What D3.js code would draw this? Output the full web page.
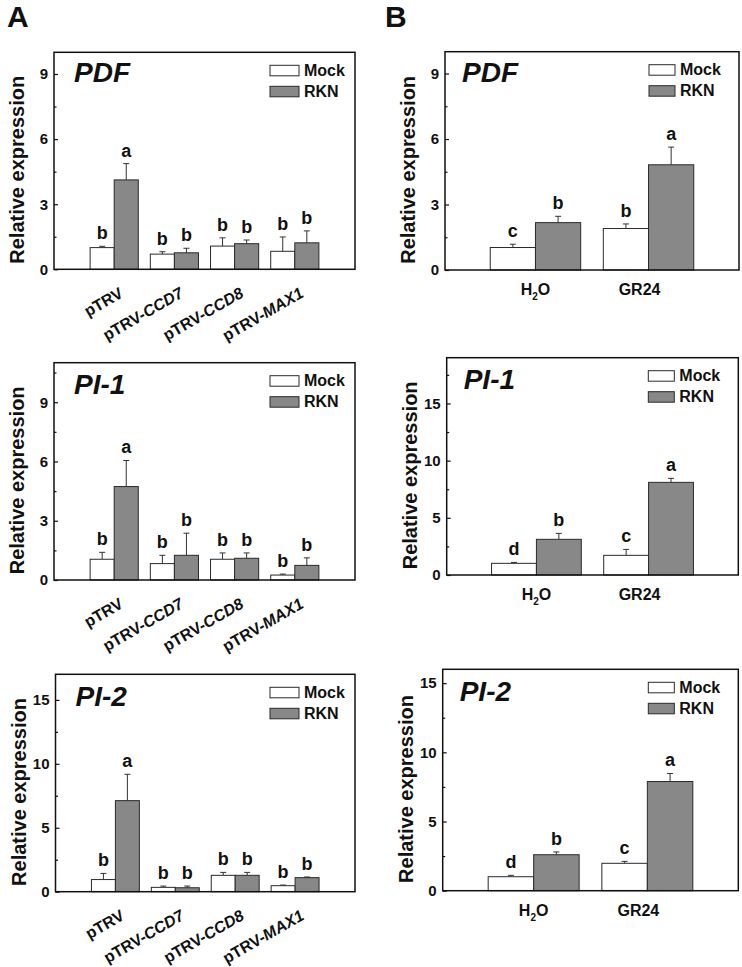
<!DOCTYPE html>
<html>
<head>
<meta charset="utf-8">
<script src="https://cdn.jsdelivr.net/npm/d3@7"></script>
<style>
  html, body { margin: 0; padding: 0; background: #fff; }
  text { font-family: "Liberation Sans", Arial, sans-serif; font-weight: bold; fill: #111; }
</style>
</head>
<body>
<script>
// ---------------- DATA ----------------
const seriesNames = ["Mock", "RKN"];
const categoriesA = ["pTRV", "pTRV-CCD7", "pTRV-CCD8", "pTRV-MAX1"];
const categoriesB = ["H2O", "GR24"];

// Panel A – PDF
const pdfA_mock = [1.00, 0.70, 1.07, 0.83];
const pdfA_mockErr = [0.06, 0.11, 0.38, 0.66];
const pdfA_rkn = [4.12, 0.76, 1.18, 1.22];
const pdfA_rknErr = [0.75, 0.21, 0.17, 0.55];
const pdfA_mockLetters = ["b", "b", "b", "b"];
const pdfA_rknLetters = ["a", "b", "b", "b"];

// Panel A – PI-1
const pi1A_mock = [1.05, 0.83, 1.05, 0.25];
const pi1A_mockErr = [0.35, 0.42, 0.32, 0.05];
const pi1A_rkn = [4.73, 1.25, 1.10, 0.74];
const pi1A_rknErr = [1.32, 1.12, 0.27, 0.38];
const pi1A_mockLetters = ["b", "b", "b", "b"];
const pi1A_rknLetters = ["a", "b", "b", "b"];

// Panel A – PI-2
const pi2A_mock = [0.95, 0.34, 1.28, 0.47];
const pi2A_mockErr = [0.48, 0.10, 0.23, 0.05];
const pi2A_rkn = [7.12, 0.31, 1.28, 1.10];
const pi2A_rknErr = [2.06, 0.13, 0.23, 0.05];
const pi2A_mockLetters = ["b", "b", "b", "b"];
const pi2A_rknLetters = ["a", "b", "b", "b"];

// Panel B – PDF
const pdfB_mock = [1.03, 1.90];
const pdfB_mockErr = [0.15, 0.21];
const pdfB_rkn = [2.17, 4.82];
const pdfB_rknErr = [0.29, 0.81];
const pdfB_mockLetters = ["c", "b"];
const pdfB_rknLetters = ["b", "a"];

// Panel B – PI-1
const pi1B_mock = [1.02, 1.72];
const pi1B_mockErr = [0.08, 0.52];
const pi1B_rkn = [3.12, 8.10];
const pi1B_rknErr = [0.52, 0.35];
const pi1B_mockLetters = ["d", "c"];
const pi1B_rknLetters = ["b", "a"];

// Panel B – PI-2
const pi2B_mock = [1.01, 1.98];
const pi2B_mockErr = [0.10, 0.14];
const pi2B_rkn = [2.60, 7.89];
const pi2B_rknErr = [0.20, 0.58];
const pi2B_mockLetters = ["d", "c"];
const pi2B_rknLetters = ["b", "a"];

// Axis ticks
const ticks3 = [0, 3, 6, 9];
const ticks5 = [0, 5, 10, 15];

// ---------------- LAYOUT ----------------
const W = 742, H = 967;
const FONT = '"Liberation Sans", Arial, sans-serif';
const colors = { Mock: "#ffffff", RKN: "#888888" };

const svg = d3.select("body").append("svg")
  .attr("width", W).attr("height", H)
  .attr("viewBox", `0 0 ${W} ${H}`);

svg.append("text").attr("x", 7).attr("y", 27).attr("font-size", 30).text("A");
svg.append("text").attr("x", 385).attr("y", 27).attr("font-size", 30).text("B");

function drawPanel(o) {
  const g = svg.append("g");
  const x = d3.scaleLinear().domain(o.xDomain).range([o.left, o.right]);
  const y = d3.scaleLinear().domain([0, o.yMax]).range([o.bottom, o.top]);
  const bw = x(0.4) - x(0);

  const rows = [];
  o.cats.forEach((c, i) => {
    rows.push({ s: "Mock", i, v: o.mock[i], e: o.mockErr[i], l: o.mockLet[i], x0: x(i + 1) - bw });
    rows.push({ s: "RKN", i, v: o.rkn[i], e: o.rknErr[i], l: o.rknLet[i], x0: x(i + 1) });
  });

  // error bars (upper only)
  const eb = g.selectAll(".eb").data(rows).enter().append("g");
  eb.append("line")
    .attr("x1", d => d.x0 + bw / 2).attr("x2", d => d.x0 + bw / 2)
    .attr("y1", d => y(d.v)).attr("y2", d => y(d.v + d.e))
    .attr("stroke", "#333").attr("stroke-width", 1);
  eb.append("line")
    .attr("x1", d => d.x0 + bw / 2 - 3).attr("x2", d => d.x0 + bw / 2 + 3)
    .attr("y1", d => y(d.v + d.e)).attr("y2", d => y(d.v + d.e))
    .attr("stroke", "#333").attr("stroke-width", 1);

  // bars
  g.selectAll(".bar").data(rows).enter().append("rect")
    .attr("x", d => d.x0).attr("width", bw)
    .attr("y", d => y(d.v)).attr("height", d => y(0) - y(d.v))
    .attr("fill", d => colors[d.s]).attr("stroke", "#2a2a2a").attr("stroke-width", 1);

  // significance letters
  g.selectAll(".let").data(rows).enter().append("text")
    .attr("x", d => d.x0 + bw / 2).attr("y", d => y(d.v + d.e) - 7)
    .attr("text-anchor", "middle").attr("font-size", 18).text(d => d.l);

  // y axis (inward ticks)
  const ax = d3.axisLeft(y).tickValues(o.ticks).tickSize(-4).tickPadding(6).tickFormat(d3.format("d"));
  const ag = g.append("g").attr("transform", `translate(${o.left},0)`).call(ax);
  ag.select(".domain").remove();
  ag.selectAll("line").attr("stroke", "#111").attr("stroke-width", 1.2);
  ag.selectAll("text").attr("font-size", 15).attr("font-family", FONT).attr("font-weight", "bold").attr("fill", "#111");
  const step = o.ticks[1] - o.ticks[0];
  const minor = d3.range(step / 2, o.yMax, step);
  const mx = d3.axisLeft(y).tickValues(minor).tickSize(-2.5).tickFormat("");
  const mg = g.append("g").attr("transform", `translate(${o.left},0)`).call(mx);
  mg.select(".domain").remove();
  mg.selectAll("line").attr("stroke", "#111").attr("stroke-width", 1.2);

  // frame
  g.append("rect").attr("x", o.left).attr("y", o.top)
    .attr("width", o.right - o.left).attr("height", o.bottom - o.top)
    .attr("fill", "none").attr("stroke", "#111").attr("stroke-width", 1.5);

  // y label
  g.append("text")
    .attr("transform", `translate(${o.left - 30},${(o.top + o.bottom) / 2 + 9}) rotate(-90)`)
    .attr("text-anchor", "middle").attr("font-size", 20).text("Relative expression");

  // gene title
  g.append("text").attr("x", o.left + o.titleDx).attr("y", o.top + o.titleDy)
    .attr("font-size", 28).attr("font-style", "italic").text(o.title);

  // legend
  seriesNames.forEach((s, k) => {
    const ly = o.top + 13 + k * 21;
    g.append("rect").attr("x", o.right - o.legDx).attr("y", ly)
      .attr("width", o.legW).attr("height", 10.5)
      .attr("fill", colors[s]).attr("stroke", "#2a2a2a").attr("stroke-width", 1);
    g.append("text").attr("x", o.right - o.legDx + o.legW + 5).attr("y", ly + 10.5)
      .attr("font-size", 16).text(s);
  });

  // x labels
  if (o.kind === "A") {
    o.cats.forEach((c, i) => {
      const t = g.append("text")
        .attr("transform", `translate(${x(i + 1) + 10},${o.bottom + 27}) rotate(-30)`)
        .attr("text-anchor", "end").attr("font-size", 16);
      const parts = c.split("-");
      if (parts.length === 1) {
        t.text(c);
      } else {
        t.append("tspan").text(parts[0] + "-");
        t.append("tspan").attr("font-style", "italic").text(parts[1]);
      }
    });
  } else {
    o.cats.forEach((c, i) => {
      const t = g.append("text")
        .attr("x", x(i + 1) + (i === 1 ? -9 : 0)).attr("y", o.bottom + 25)
        .attr("text-anchor", "middle").attr("font-size", 16);
      if (c === "H2O") {
        t.append("tspan").text("H");
        t.append("tspan").attr("font-size", 10).attr("dy", 5).text("2");
        t.append("tspan").attr("dy", -5).text("O");
      } else {
        t.text(c);
      }
    });
  }
}

const baseA = { kind: "A", cats: categoriesA, xDomain: [0, 5], left: 54, right: 355, titleDx: 20, legDx: 85, legW: 29 };
const baseB = { kind: "B", cats: categoriesB, xDomain: [0.2, 2.8], titleDx: 17, legDx: 90, legW: 26 };

drawPanel(Object.assign({}, baseA, { top: 52.3, bottom: 269.3, yMax: 10, ticks: ticks3, title: "PDF", titleDy: 30,
  mock: pdfA_mock, mockErr: pdfA_mockErr, rkn: pdfA_rkn, rknErr: pdfA_rknErr, mockLet: pdfA_mockLetters, rknLet: pdfA_rknLetters }));
drawPanel(Object.assign({}, baseA, { top: 362.7, bottom: 580, yMax: 11, ticks: ticks3, title: "PI-1", titleDy: 31,
  mock: pi1A_mock, mockErr: pi1A_mockErr, rkn: pi1A_rkn, rknErr: pi1A_rknErr, mockLet: pi1A_mockLetters, rknLet: pi1A_rknLetters }));
drawPanel(Object.assign({}, baseA, { left: 55.5, top: 674.3, bottom: 891.7, yMax: 17, ticks: ticks5, title: "PI-2", titleDy: 32,
  mock: pi2A_mock, mockErr: pi2A_mockErr, rkn: pi2A_rkn, rknErr: pi2A_rknErr, mockLet: pi2A_mockLetters, rknLet: pi2A_rknLetters }));

drawPanel(Object.assign({}, baseB, { left: 445, right: 739, top: 51.7, bottom: 270, yMax: 10, ticks: ticks3, title: "PDF", titleDy: 30,
  mock: pdfB_mock, mockErr: pdfB_mockErr, rkn: pdfB_rkn, rknErr: pdfB_rknErr, mockLet: pdfB_mockLetters, rknLet: pdfB_rknLetters }));
drawPanel(Object.assign({}, baseB, { left: 446.7, right: 738.3, top: 357.7, bottom: 575, yMax: 19, ticks: ticks5, title: "PI-1", titleDy: 31.5,
  mock: pi1B_mock, mockErr: pi1B_mockErr, rkn: pi1B_rkn, rknErr: pi1B_rknErr, mockLet: pi1B_mockLetters, rknLet: pi1B_rknLetters }));
drawPanel(Object.assign({}, baseB, { left: 442.7, right: 738.3, top: 669.3, bottom: 890.7, yMax: 16, ticks: ticks5, title: "PI-2", titleDy: 32,
  mock: pi2B_mock, mockErr: pi2B_mockErr, rkn: pi2B_rkn, rknErr: pi2B_rknErr, mockLet: pi2B_mockLetters, rknLet: pi2B_rknLetters }));
</script>
</body>
</html>
